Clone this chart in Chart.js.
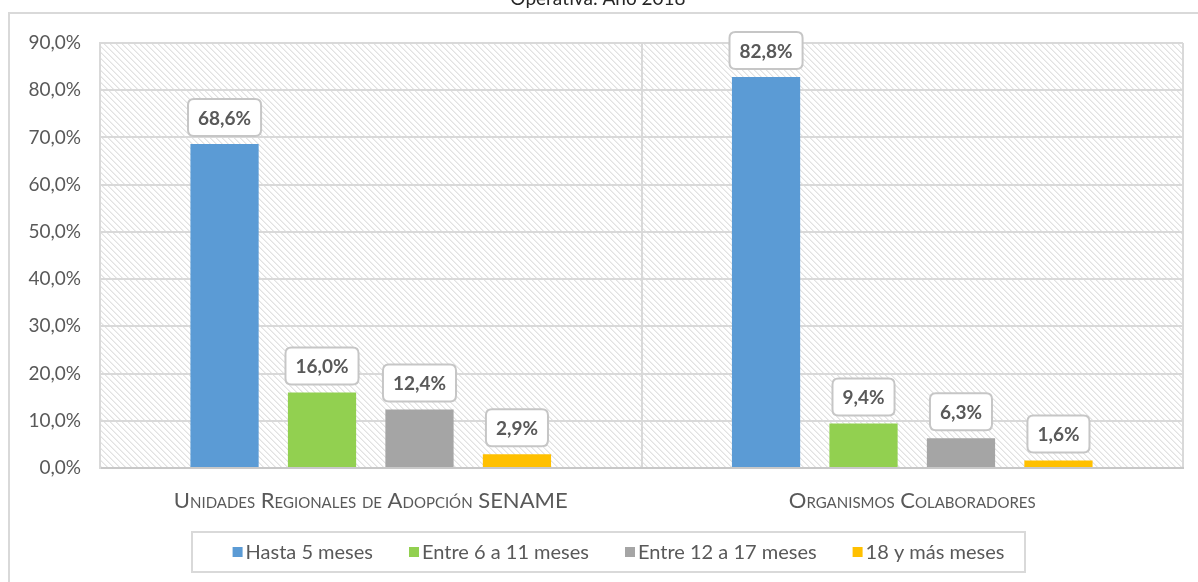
<!DOCTYPE html>
<html><head><meta charset="utf-8">
<script src="https://cdn.jsdelivr.net/npm/chart.js@4.4.1/dist/chart.umd.min.js"></script>
<style>html,body{margin:0;padding:0;background:#fff;overflow:hidden}canvas{display:block}</style>
</head><body>
<canvas id="c" width="1198" height="582"></canvas>
<script>
// ---- data ----
const categories = ['Unidades Regionales de Adopción SENAME', 'Organismos Colaboradores'];
const seriesNames = ['Hasta 5 meses', 'Entre 6 a 11 meses', 'Entre 12 a 17 meses', '18 y más meses'];
const hasta5Meses = [68.6, 82.8];
const entre6a11Meses = [16.0, 9.4];
const entre12a17Meses = [12.4, 6.3];
const mas18Meses = [2.9, 1.6];
const yTickLabels = ['0,0%', '10,0%', '20,0%', '30,0%', '40,0%', '50,0%', '60,0%', '70,0%', '80,0%', '90,0%'];
const titleText = 'Operativa: Año 2018';

// ---- styles ----
const colors = ['#5B9BD5', '#92D050', '#A5A5A5', '#FFC000'];
const FONT = 'Lato';
const TXT = '#595959';

function makePattern(ctx) {
  const t = document.createElement('canvas'); t.width = 6; t.height = 6;
  const c = t.getContext('2d');
  c.fillStyle = '#ffffff'; c.fillRect(0, 0, 6, 6);
  for (let i = 0; i < 6; i++) {
    c.fillStyle = '#e2e2e2'; c.fillRect(i, i, 1, 1);
    c.fillStyle = '#efefef'; c.fillRect((i + 1) % 6, i, 1, 1);
  }
  return ctx.createPattern(t, 'repeat');
}

const backgroundPlugin = {
  id: 'bg',
  beforeDraw(chart) {
    const ctx = chart.ctx, a = chart.chartArea;
    ctx.save();
    ctx.fillStyle = '#fff'; ctx.fillRect(0, 0, chart.width, chart.height);
    // outer frame
    ctx.strokeStyle = '#d9d9d9'; ctx.lineWidth = 2;
    ctx.beginPath(); ctx.moveTo(9, chart.height); ctx.lineTo(9, 13); ctx.lineTo(chart.width, 13); ctx.stroke();
    // partially visible title
    ctx.fillStyle = '#262626'; ctx.font = '19px ' + FONT; ctx.textAlign = 'center'; ctx.textBaseline = 'alphabetic';
    ctx.fillText(titleText, 598, 5);
    // hatched plot area
    ctx.fillStyle = makePattern(ctx);
    ctx.fillRect(a.left, a.top, a.right - a.left, a.bottom - a.top);
    ctx.restore();
  }
};

function roundRect(ctx, x, y, w, h, r) {
  ctx.beginPath();
  ctx.moveTo(x + r, y); ctx.lineTo(x + w - r, y); ctx.quadraticCurveTo(x + w, y, x + w, y + r);
  ctx.lineTo(x + w, y + h - r); ctx.quadraticCurveTo(x + w, y + h, x + w - r, y + h);
  ctx.lineTo(x + r, y + h); ctx.quadraticCurveTo(x, y + h, x, y + h - r);
  ctx.lineTo(x, y + r); ctx.quadraticCurveTo(x, y, x + r, y); ctx.closePath();
}

const labelPlugin = {
  id: 'labels',
  afterDatasetsDraw(chart) {
    const ctx = chart.ctx;
    ctx.save();
    ctx.font = 'bold 19px ' + FONT;
    ctx.textAlign = 'center'; ctx.textBaseline = 'middle';
    chart.data.datasets.forEach((ds, di) => {
      chart.getDatasetMeta(di).data.forEach((bar, i) => {
        const txt = ds.data[i].toFixed(1).replace('.', ',') + '%';
        const w = ctx.measureText(txt).width + 20, h = 37;
        const x = bar.x - w / 2, y = bar.y - 8 - h;
        roundRect(ctx, x, y, w, h, 6);
        ctx.fillStyle = '#fff'; ctx.fill();
        ctx.strokeStyle = '#c6c6c6'; ctx.lineWidth = 2; ctx.stroke();
        ctx.fillStyle = TXT; ctx.fillText(txt, bar.x, y + h / 2 + 1);
      });
    });
    ctx.restore();
  }
};

const legendPlugin = {
  id: 'customLegend',
  afterDraw(chart) {
    const ctx = chart.ctx;
    const bx = 192, by = 532, bw = 833, bh = 40;
    ctx.save();
    ctx.strokeStyle = '#d9d9d9'; ctx.lineWidth = 2;
    ctx.strokeRect(bx, by, bw, bh);
    ctx.font = '20px ' + FONT; ctx.textBaseline = 'middle'; ctx.textAlign = 'left';
    const sq = 10, gap = 3, spacing = 36;
    const items = chart.data.datasets.map(d => ({ label: d.label, color: d.backgroundColor, w: ctx.measureText(d.label).width }));
    const total = items.reduce((s, it) => s + sq + gap + it.w, 0) + spacing * (items.length - 1);
    let x = bx + bw / 2 - total / 2 + 10;
    const cy = by + bh / 2;
    items.forEach(it => {
      ctx.fillStyle = it.color; ctx.fillRect(x, cy - sq / 2, sq, sq);
      x += sq + gap;
      ctx.fillStyle = TXT; ctx.fillText(it.label, x, cy + 1);
      x += it.w + spacing;
    });
    ctx.restore();
  }
};

const seriesData = [hasta5Meses, entre6a11Meses, entre12a17Meses, mas18Meses];

new Chart(document.getElementById('c'), {
  type: 'bar',
  data: {
    labels: categories,
    datasets: seriesNames.map((n, i) => ({
      label: n, data: seriesData[i], backgroundColor: colors[i], borderWidth: 0,
      categoryPercentage: 0.72, barPercentage: 0.70
    }))
  },
  options: {
    responsive: false, animation: false,
    layout: { padding: { top: 43, right: 15, left: 0, bottom: 0 } },
    plugins: { legend: { display: false }, tooltip: { enabled: false }, title: { display: false } },
    scales: {
      x: {
        grid: { color: '#d9d9d9', lineWidth: 2, drawTicks: false, offset: true },
        border: { display: true, color: '#c8c8c8', width: 2 },
        ticks: { color: TXT, font: { family: FONT, size: 22, weight: 'small-caps' }, padding: 20, maxRotation: 0 },
        afterFit(s) { s.height = 114; }
      },
      y: {
        min: 0, max: 90,
        grid: { color: '#d9d9d9', lineWidth: 2, drawTicks: false },
        border: { display: true, color: '#d9d9d9', width: 2 },
        ticks: { stepSize: 10, color: TXT, font: { family: FONT, size: 19 }, padding: 19,
          callback: (v) => yTickLabels[Math.round(v / 10)] },
        afterFit(s) { s.width = 100; }
      }
    }
  },
  plugins: [backgroundPlugin, labelPlugin, legendPlugin]
});
</script>
</body></html>
